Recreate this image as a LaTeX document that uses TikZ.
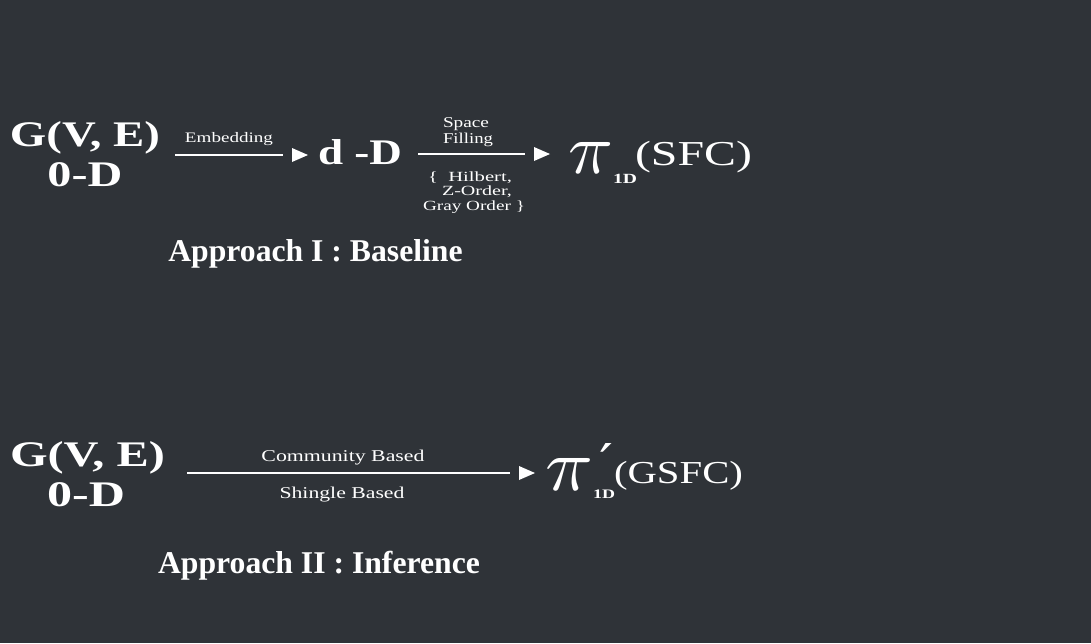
\documentclass[tikz,border=0pt]{standalone}
\usepackage{fontspec}
\setmainfont{Liberation Serif}
\newfontfamily\primefont{DejaVu Serif}
\usepackage{graphicx}
\usetikzlibrary{calc}
\definecolor{bgc}{RGB}{47,51,56}
\newcommand\fs[1]{\fontsize{#1}{#1}\selectfont}
\newcommand\hw[2]{\resizebox{#1pt}{\height}{#2}}
\tikzset{
  txt/.style={inner sep=0pt, outer sep=0pt, text=white},
  big/.style={txt, font=\fs{36}\bfseries},
  lbl/.style={txt, font=\fs{15}},
  rule/.style={draw=white, line width=2.5pt},
}
\begin{document}
\begin{tikzpicture}[x=1pt,y=-1pt]
\fill[bgc] (0,0) rectangle (1091,643);
\useasboundingbox (0,0) rectangle (1091,643);

% ---------- Row 1 ----------
\node[big, anchor=base west] (g1) at (10,146) {\hw{150}{G(V, E)}};
\node[big, anchor=base] (z1) at (85,186) {\hw{75}{0-D}};
\node[big, anchor=base west] (dD) at (318,164) {\hw{84}{d -D}};

\node[txt, font=\fs{14.5}, anchor=base] (emb) at (229,142) {\hw{88}{Embedding}};
\coordinate (e1s) at (175,155);
\coordinate (e1e) at (308,155);
\draw[rule] (e1s) -- ($(e1e)+(-25,0)$);
\fill[white] (e1e) -- ++(-16,-7) -- ++(0,14) -- cycle;

\node[lbl, anchor=base] (sp) at (466,127) {\hw{46}{Space}};
\node[lbl, anchor=base] (fl) at (468,143) {\hw{50}{Filling}};
\node[lbl, font=\fs{14}, anchor=base] (hil) at (470,181) {\hw{84}{\{\ \ Hilbert,}};
\node[lbl, font=\fs{14}, anchor=base] (zo) at (477,195.5) {\hw{70}{Z-Order,}};
\node[lbl, font=\fs{14}, anchor=base] (gr) at (474,210) {\hw{102}{Gray Order \}}};
\coordinate (e2s) at (418,154);
\coordinate (e2e) at (550,154);
\draw[rule] (e2s) -- ($(e2e)+(-25,0)$);
\fill[white] (e2e) -- ++(-16,-7) -- ++(0,14) -- cycle;

\node[txt, anchor=base west] (pi1) at (568,173) {\resizebox{45pt}{31pt}{$\pi$}};
\node[txt, font=\fs{14}\bfseries, anchor=base west] (s1) at (613,183) {\hw{24}{1D}};
\node[txt, font=\fs{35}, anchor=base west] (sfc) at (635,165) {\hw{117}{(SFC)}};

\node[txt, font=\fs{31.7}\bfseries, anchor=base] (ap1) at (315.5,261) {Approach I : Baseline};

% ---------- Row 2 ----------
\node[big, anchor=base west] (g2) at (10,466) {\hw{155}{G(V, E)}};
\node[big, anchor=base] (z2) at (86,506) {\hw{78}{0-D}};

\node[txt, font=\fs{16.5}, anchor=base] (cb) at (343,461) {\hw{163}{Community Based}};
\node[txt, font=\fs{16.5}, anchor=base] (sb) at (342,498) {\hw{125}{Shingle Based}};
\coordinate (e3s) at (187,473);
\coordinate (e3e) at (535,473);
\draw[rule, line width=2pt] (e3s) -- ($(e3e)+(-25,0)$);
\fill[white] (e3e) -- ++(-16,-7) -- ++(0,14) -- cycle;

\node[txt, anchor=base west] (pi2) at (545,490) {\resizebox{48pt}{32pt}{$\pi$}};
\node[txt, anchor=base west] (pr) at (599,458) {\hw{14}{\raisebox{-20pt}[16pt][0pt]{\fs{48}\primefont ′}}};
\node[txt, font=\fs{13}\bfseries, anchor=base west] (s2) at (593,498) {\hw{22}{1D}};
\node[txt, font=\fs{32}, anchor=base west] (gsfc) at (614,483) {\hw{129}{(GSFC)}};

\node[txt, font=\fs{31.7}\bfseries, anchor=base] (ap2) at (319,573) {Approach II : Inference};
\end{tikzpicture}
\end{document}
